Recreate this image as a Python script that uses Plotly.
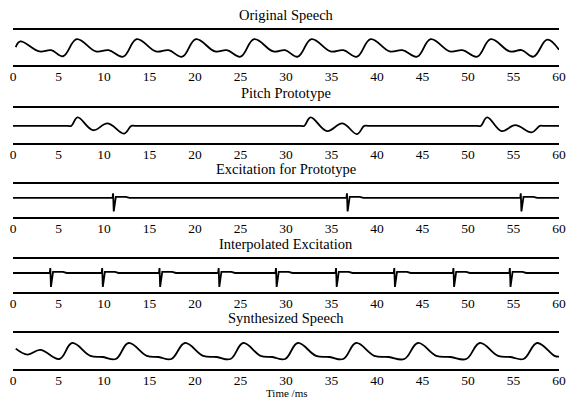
import plotly.graph_objects as go

# ---------------- data ----------------
x_ticks = [0, 5, 10, 15, 20, 25, 30, 35, 40, 45, 50, 55, 60]
titles = ["Original Speech", "Pitch Prototype", "Excitation for Prototype",
          "Interpolated Excitation", "Synthesized Speech"]
x_title = "Time /ms"

# Original speech: key points (ms, relative amplitude)
orig_t = [0.3, 0.8, 2.9, 4.2, 5.5, 7.0, 9.1, 10.5, 12.1, 13.6, 15.7, 17.1, 18.6,
          20.1, 22.2, 23.5, 25.0, 26.5, 28.6, 29.9, 31.3, 32.8, 34.9, 36.3, 37.8,
          39.3, 41.4, 42.8, 44.4, 45.9, 48.0, 49.4, 51.0, 52.5, 54.6, 55.9, 57.2,
          58.7, 60.0]
orig_v = [0.1, 0.75, -0.4, -0.25, -0.95, 1.0, -0.4, -0.25, -1.0, 1.0, -0.4, -0.25, -1.0,
          1.0, -0.4, -0.25, -1.0, 1.0, -0.4, -0.25, -1.0, 1.0, -0.4, -0.25, -1.0,
          1.0, -0.4, -0.25, -1.0, 1.0, -0.4, -0.25, -1.0, 1.0, -0.4, -0.25, -1.0,
          0.95, -0.2]

# Pitch prototype: flat with three prototype cycles
proto_t = [0.0, 3.0, 6.0, 6.4, 7.1, 8.8, 10.4, 12.2, 13.0, 13.5, 20.0,
           29.0, 31.6, 32.0, 32.7, 34.5, 36.2, 37.8, 38.6, 39.1, 45.0,
           48.0, 51.0, 51.4, 52.1, 53.7, 55.2, 57.0, 57.9, 58.4, 60.0]
proto_v = [0.0, 0.0, 0.0, 0.0, 1.0, -0.5, 0.3, -0.9, 0.0, 0.0, 0.0,
           0.0, 0.0, 0.0, 1.0, -0.6, 0.3, -0.95, 0.0, 0.0, 0.0,
           0.0, 0.0, 0.0, 1.0, -0.6, 0.1, -0.75, 0.0, 0.0, 0.0]

# Excitation pulses (ms)
proto_pulse_times = [11.0, 36.7, 55.8]
interp_pulse_times = [4.1, 9.8, 16.1, 22.6, 28.9, 35.5, 41.9, 48.4, 54.6]
pulse_dt = [-0.06, 0.0, 0.07, 0.3, 1.4, 1.8]
pulse_v = [0.0, 0.35, -1.0, 0.08, 0.08, 0.0]

# Synthesized speech: key points
syn_t = [0.3, 1.6, 3.0, 5.1, 6.5, 8.5, 9.9, 11.3, 12.7, 14.7, 16.0, 17.4,
         18.9, 20.9, 22.4, 23.9, 25.3, 27.2, 28.5, 29.9, 31.3, 33.3, 34.8,
         36.3, 37.7, 39.7, 41.3, 43.0, 44.5, 46.5, 48.1, 49.8, 51.3, 53.3,
         54.7, 56.1, 57.6, 59.5, 60.0]
syn_v = [0.3, -0.45, 0.15, -1.0, 1.0, -0.6, -0.75, -1.0, 1.0, -0.6, -0.75, -1.0,
         1.0, -0.6, -0.75, -1.0, 1.0, -0.6, -0.75, -1.0, 1.0, -0.6, -0.75,
         -1.0, 1.0, -0.6, -0.75, -1.0, 1.0, -0.6, -0.75, -1.0, 1.0, -0.6,
         -0.75, -1.0, 1.0, -0.6, -0.7]


def pulse_train(times):
    t, v = [0.0], [0.0]
    for p in times:
        for d, a in zip(pulse_dt, pulse_v):
            t.append(p + d)
            v.append(a)
    t.append(60.0)
    v.append(0.0)
    return t, v


exc_t, exc_v = pulse_train(proto_pulse_times)
int_t, int_v = pulse_train(interp_pulse_times)

# ---------------- layout ----------------
W, H = 566, 400
tops = [30, 108, 184, 259, 333]
bottoms = [65, 143, 217, 292, 369]
yranges = [[-1.95, 2.05], [-2.0, 2.1], [-1.42, 1.04], [-1.36, 1.0], [-2.25, 2.25]]
series = [(orig_t, orig_v, "spline"), (proto_t, proto_v, "spline"),
          (exc_t, exc_v, "linear"), (int_t, int_v, "linear"),
          (syn_t, syn_v, "spline")]

FONT = "Liberation Serif"
fig = go.Figure()
layout = dict(
    width=W, height=H,
    margin=dict(l=13, r=5, t=0, b=0),
    paper_bgcolor="white", plot_bgcolor="white",
    showlegend=False,
    font=dict(family=FONT, color="black"),
    annotations=[],
)

for i, ((t, v, shape), top, bot, yr, title) in enumerate(
        zip(series, tops, bottoms, yranges, titles), start=1):
    sx = "" if i == 1 else str(i)
    fig.add_trace(go.Scatter(
        x=t, y=v, mode="lines", xaxis="x" + sx, yaxis="y" + sx,
        line=dict(color="black", width=1.8, shape=shape, smoothing=1.1),
        hoverinfo="skip"))
    dom = [1 - bot / H, 1 - top / H]
    layout["xaxis" + sx] = dict(
        domain=[0, 1], range=[0, 60], anchor="y" + sx,
        showline=True, mirror=True, linecolor="black", linewidth=2,
        showgrid=False, zeroline=False, ticks="",
        tickmode="array", tickvals=x_ticks, ticktext=[str(k) for k in x_ticks],
        tickfont=dict(family=FONT, size=13.5, color="black"),
        ticklabelstandoff=-2, ticklabeloverflow="allow",
    )
    layout["yaxis" + sx] = dict(
        domain=dom, range=yr, anchor="x" + sx, visible=False,
        showgrid=False, zeroline=False)
    layout["annotations"].append(dict(
        text=title, xref="paper", yref="paper", x=0.5, y=1 - (top - 15) / H,
        xanchor="center", yanchor="middle", showarrow=False,
        font=dict(family=FONT, size=14.5, color="black")))

layout["annotations"].append(dict(
    text=x_title, xref="paper", yref="paper", x=0.5, y=1 - 393 / H,
    xanchor="center", yanchor="middle", showarrow=False,
    font=dict(family=FONT, size=11, color="black")))

fig.update_layout(**layout)
fig.write_html("out.html")
